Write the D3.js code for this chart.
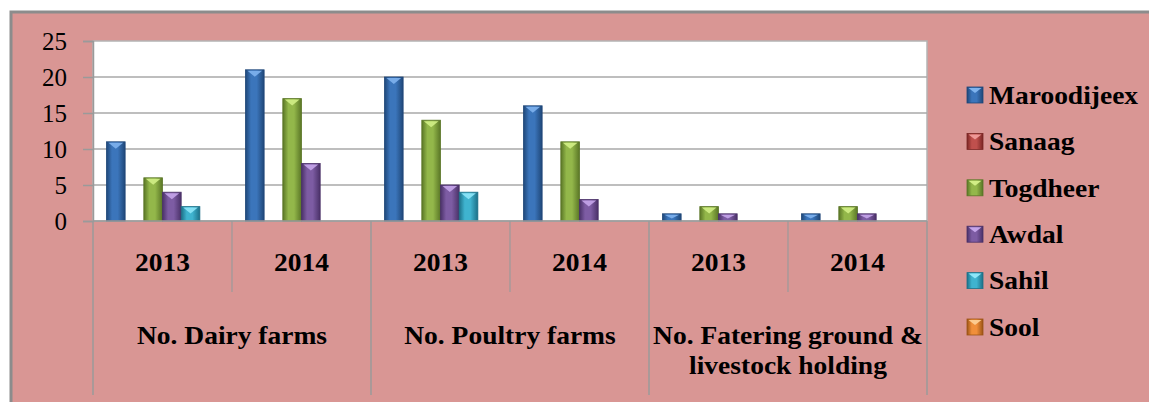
<!DOCTYPE html>
<html>
<head>
<meta charset="utf-8">
<script src="https://d3js.org/d3.v7.min.js"></script>
</head>
<body style="margin:0">
<svg id="viz" width="1149" height="402"></svg>
<script>
// data
const groups = ["No. Dairy farms", "No. Poultry farms", "No. Fatering ground & livestock holding"];
const years = ["2013", "2014"];
const series = ["Maroodijeex", "Sanaag", "Togdheer", "Awdal", "Sahil", "Sool"];
// one value per slot: Dairy 2013, Dairy 2014, Poultry 2013, Poultry 2014, Fatering 2013, Fatering 2014
const maroodijeex = [11, 21, 20, 16, 1, 1];
const sanaag      = [0, 0, 0, 0, 0, 0];
const togdheer    = [6, 17, 14, 11, 2, 2];
const awdal       = [4, 8, 5, 3, 1, 1];
const sahil       = [2, 0, 4, 0, 0, 0];
const sool        = [0, 0, 0, 0, 0, 0];
const yTicks = [0, 5, 10, 15, 20, 25];

const values = [maroodijeex, sanaag, togdheer, awdal, sahil, sool];

// bevel colours: edge, middle, top highlight
const colors = [
  ["#1f4778", "#3b75bb", "#7fb3ee"],
  ["#7a2624", "#c0504d", "#ee9896"],
  ["#5a7626", "#93b74a", "#d2ee86"],
  ["#4a3168", "#7d5ca3", "#c5a5ea"],
  ["#1c7088", "#3fb3cf", "#8ee6f8"],
  ["#9c5416", "#f08f3a", "#fccb8f"]
];

const FONT = "'Liberation Serif', monospace";
const svg = d3.select("#viz");
const plotL = 93, plotR = 927, plotT = 41, plotB = 221;
const sx = 1.1;  // text in the picture is a little wide

const slots = [];
groups.forEach((g, gi) => years.forEach((yr, yi) => slots.push({g: gi, year: yr, i: gi * 2 + yi})));

const x0 = d3.scaleBand().domain(d3.range(slots.length)).range([plotL, plotR]);
const x1 = d3.scaleBand().domain(d3.range(series.length))
  .range([0, x0.bandwidth()]).paddingOuter(0.72);
const y = d3.scaleLinear().domain([0, 25]).range([plotB, plotT]);

// pink chart area with grey frame
svg.append("rect")
  .attr("x", 11).attr("y", 12).attr("width", 1160).attr("height", 420)
  .attr("fill", "#d99694").attr("stroke", "#8c8c8c").attr("stroke-width", 3);

// plot area
svg.append("rect")
  .attr("x", plotL).attr("y", plotT).attr("width", plotR - plotL).attr("height", plotB - plotT)
  .attr("fill", "#fff").attr("stroke", "#b4b4b4").attr("stroke-width", 1.5);

// gradients
const defs = svg.append("defs");
colors.forEach((c, i) => {
  const g = defs.append("linearGradient").attr("id", "grad" + i)
    .attr("x1", "0%").attr("x2", "100%").attr("y1", "0%").attr("y2", "0%");
  g.append("stop").attr("offset", "0%").attr("stop-color", c[0]);
  g.append("stop").attr("offset", "30%").attr("stop-color", c[1]);
  g.append("stop").attr("offset", "60%").attr("stop-color", c[1]);
  g.append("stop").attr("offset", "100%").attr("stop-color", c[0]);
});

// grid lines
svg.append("g").selectAll("line").data(yTicks.slice(1, -1)).join("line")
  .attr("x1", plotL).attr("x2", plotR)
  .attr("y1", d => y(d)).attr("y2", d => y(d))
  .attr("stroke", "#a8a8a8").attr("stroke-width", 1.5);

// y axis
const yAxis = svg.append("g")
  .attr("transform", `translate(${plotL},0)`)
  .call(d3.axisLeft(y).tickValues(yTicks).tickSize(10).tickPadding(16));
yAxis.attr("font-family", null);
yAxis.select(".domain").attr("stroke", "#9a9a9a").attr("stroke-width", 1.5);
yAxis.selectAll(".tick line").attr("stroke", "#9a9a9a").attr("stroke-width", 1.5);
yAxis.selectAll(".tick text")
  .style("font-family", FONT, "important")
  .attr("font-size", 25).attr("fill", "#000");

// bars
const flat = [];
values.forEach((vals, s) => vals.forEach((v, i) => { if (v > 0) flat.push({s, i, v}); }));

const bars = svg.append("g").selectAll("g").data(flat).join("g");
bars.append("rect")
  .attr("x", d => x0(d.i) + x1(d.s))
  .attr("y", d => y(d.v))
  .attr("width", x1.bandwidth())
  .attr("height", d => y(0) - y(d.v))
  .attr("fill", d => `url(#grad${d.s})`)
  .attr("stroke", d => colors[d.s][0]).attr("stroke-width", 0.8);
bars.append("path")
  .attr("d", d => {
    const bx = x0(d.i) + x1(d.s), bw = x1.bandwidth(), ty = y(d.v);
    const th = Math.min(6, (y(0) - ty) / 2);
    return `M${bx + 2},${ty + 1}L${bx + bw - 2},${ty + 1}L${bx + bw / 2},${ty + 1 + th}Z`;
  })
  .attr("fill", d => colors[d.s][2]).attr("opacity", 0.9);

// category axis
svg.append("line").attr("x1", plotL).attr("x2", plotR).attr("y1", plotB).attr("y2", plotB)
  .attr("stroke", "#9a9a9a").attr("stroke-width", 1.5);

const axisG = svg.append("g");
// short separators between years inside a group
axisG.selectAll("line.year").data(slots.filter(d => d.i % 2 === 1)).join("line")
  .attr("x1", d => x0(d.i)).attr("x2", d => x0(d.i))
  .attr("y1", plotB).attr("y2", 292)
  .attr("stroke", "#9a9a9a").attr("stroke-width", 1.2);
// long separators between groups
const groupEdges = d3.range(groups.length + 1).map(g => g < groups.length ? x0(g * 2) : plotR);
axisG.selectAll("line.group").data(groupEdges).join("line")
  .attr("x1", d => d).attr("x2", d => d)
  .attr("y1", plotB).attr("y2", 395)
  .attr("stroke", "#9a9a9a").attr("stroke-width", 1.5);

// text placed at x/y inside a horizontally stretched group
function label(parent, data, xf, yf, txt) {
  return parent.append("g").attr("transform", `scale(${sx},1)`)
    .selectAll("text").data(data).join("text")
    .style("font-family", FONT, "important")
    .attr("x", d => xf(d) / sx).attr("y", yf)
    .attr("font-size", 25).attr("font-weight", "bold").attr("fill", "#000")
    .attr("dy", "0.35em")
    .text(txt);
}

label(axisG, slots, d => x0(d.i) + x0.bandwidth() / 2, () => 262, d => d.year)
  .attr("text-anchor", "middle");

const groupLines = [["No. Dairy farms"], ["No. Poultry farms"], ["No. Fatering ground &", "livestock holding"]];
const gl = [];
groupLines.forEach((lines, g) => lines.forEach((t, k) => gl.push({g, t, k})));
label(axisG, gl, d => x0(d.g * 2) + x0.bandwidth(), d => 335 + d.k * 30, d => d.t)
  .attr("text-anchor", "middle");

// legend
const legend = svg.append("g").selectAll("g").data(series).join("g")
  .attr("transform", (d, i) => `translate(967,${95 + i * 46.4})`);
legend.append("rect")
  .attr("x", 0).attr("y", -8).attr("width", 16).attr("height", 16)
  .attr("fill", (d, i) => `url(#grad${i})`)
  .attr("stroke", (d, i) => colors[i][0]).attr("stroke-width", 0.8);
legend.append("path")
  .attr("d", "M1.5,-7L14.5,-7L8,-2Z")
  .attr("fill", (d, i) => colors[i][2]);
legend.append("text")
  .style("font-family", FONT, "important")
  .attr("font-size", 25).attr("font-weight", "bold").attr("dy", "0.35em")
  .attr("transform", `translate(22,0) scale(${sx},1)`)
  .text(d => d);
</script>
</body>
</html>
